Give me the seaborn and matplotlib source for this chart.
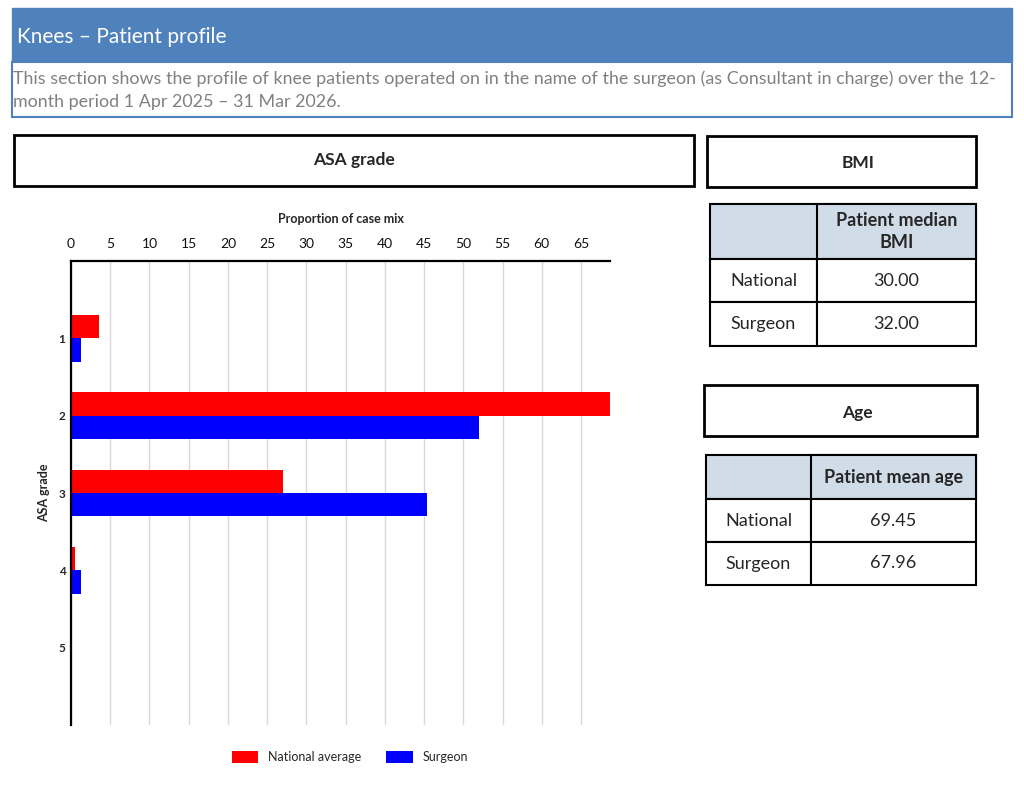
import pandas as pd
import seaborn as sns
import matplotlib.pyplot as plt
from matplotlib.patches import Rectangle

# === chart data ===
ASA_GRADES = ['1', '2', '3', '4', '5']
NATIONAL_PCT = [3.6, 68.7, 27.0, 0.5, 0.0]
SURGEON_PCT = [1.25, 52.0, 45.4, 1.25, 0.0]
SERIES = ['National average', 'Surgeon']
X_TICKS = list(range(0, 70, 5))

TABLE_ROWS = ['National', 'Surgeon']
BMI_MEDIAN = [30.00, 32.00]
AGE_MEAN = [69.45, 67.96]

TITLE = 'Knees – Patient profile'
DESC_LINES = [
    'This section shows the profile of knee patients operated on in the name of the surgeon (as Consultant in charge) over the 12-',
    'month period 1 Apr 2025 – 31 Mar 2026.',
]

RED = '#ff0000'
BLUE = '#0000ff'
HEADER_BLUE = '#4f81bd'
TABLE_HEAD = '#d0dde9'

sns.set_theme(style='white')
plt.rcParams['font.family'] = ['Lato', 'DejaVu Sans']

W, H = 1024, 796
fig = plt.figure(figsize=(W / 100, H / 100), dpi=100)


def fx(x):
    return x / W


def fy(y):
    return 1 - y / H


def box(x0, y0, x1, y1, fc='white', ec='black', lw=1.5):
    fig.add_artist(Rectangle((fx(x0), fy(y1)), (x1 - x0) / W, (y1 - y0) / H,
                             transform=fig.transFigure, facecolor=fc,
                             edgecolor=ec, linewidth=lw))


def text(x, y, s, **kw):
    fig.text(fx(x), fy(y), s, va='center', **kw)


# header band + description
box(12, 8, 1012, 62, fc=HEADER_BLUE, ec=HEADER_BLUE, lw=1)
box(12, 62, 1012, 117, fc='white', ec=HEADER_BLUE, lw=1.5)
text(17, 37, TITLE, color='white', fontsize=15)
text(13, 79, DESC_LINES[0], color='#808080', fontsize=12.9)
text(13, 102, DESC_LINES[1], color='#808080', fontsize=12.9)

# section title boxes
box(14, 135, 694, 186, lw=2)
text(354, 160, 'ASA grade', ha='center', fontsize=12.5, fontweight='bold')
box(707, 136, 976, 187, lw=2)
text(858, 163, 'BMI', ha='center', fontsize=12.5, fontweight='bold')
box(704, 385, 977, 436, lw=2)
text(857, 413, 'Age', ha='center', fontsize=12.5, fontweight='bold')


def small_table(x0, xm, x1, ys, head, values):
    box(x0, ys[0], x1, ys[1], fc=TABLE_HEAD, lw=1.5)
    box(xm, ys[0], x1, ys[1], fc=TABLE_HEAD, lw=1.5)
    text((xm + x1) / 2, (ys[0] + ys[1]) / 2, head, ha='center',
         fontsize=13, fontweight='bold', linespacing=1.3)
    for i, (name, val) in enumerate(zip(TABLE_ROWS, values)):
        top, bot = ys[i + 1], ys[i + 2]
        box(x0, top, xm, bot, lw=1.5)
        box(xm, top, x1, bot, lw=1.5)
        text((x0 + xm) / 2, (top + bot) / 2, name, ha='center', fontsize=13)
        text((xm + x1) / 2, (top + bot) / 2, f'{val:.2f}', ha='center', fontsize=13)


small_table(710, 817, 976, [204, 259, 302, 346], 'Patient median\nBMI', BMI_MEDIAN)
small_table(706, 811, 976, [455, 499, 542, 585], 'Patient mean age', AGE_MEAN)

# ASA grade bar chart
df = pd.DataFrame({
    'grade': ASA_GRADES * 2,
    'pct': NATIONAL_PCT + SURGEON_PCT,
    'series': [SERIES[0]] * len(ASA_GRADES) + [SERIES[1]] * len(ASA_GRADES),
})

ax = fig.add_axes([fx(71), fy(725), (610 - 71) / W, (725 - 261) / H])
sns.barplot(data=df, y='grade', x='pct', hue='series', order=ASA_GRADES,
            hue_order=SERIES, palette=[RED, BLUE], orient='h', width=0.6,
            saturation=1, linewidth=0, ax=ax)

ax.set_xlim(0, 68.7)
ax.set_ylim(5, -1)
ax.set_xticks(X_TICKS)
ax.xaxis.tick_top()
ax.xaxis.set_label_position('top')
ax.grid(axis='x', color='#d9d9d9', linewidth=1)
ax.set_axisbelow(True)
for side in ['right', 'bottom']:
    ax.spines[side].set_visible(False)
for side in ['top', 'left']:
    ax.spines[side].set_color('black')
    ax.spines[side].set_linewidth(1.6)
ax.tick_params(axis='x', length=0, pad=8, labelsize=10, labelcolor='#111111')
ax.tick_params(axis='y', length=0, pad=4, labelsize=8.5)
for lab in ax.get_yticklabels():
    lab.set_fontweight('bold')
ax.set_xlabel('Proportion of case mix', fontsize=9, fontweight='bold', labelpad=11)
ax.set_ylabel('ASA grade', fontsize=9, fontweight='bold', labelpad=6)

ax.legend(loc='center', bbox_to_anchor=(fx(350), fy(757)),
          bbox_transform=fig.transFigure, ncol=2, frameon=False,
          fontsize=9, handlelength=2.1, handleheight=1.1, columnspacing=2.0)

fig.savefig('out.png', dpi=100)
